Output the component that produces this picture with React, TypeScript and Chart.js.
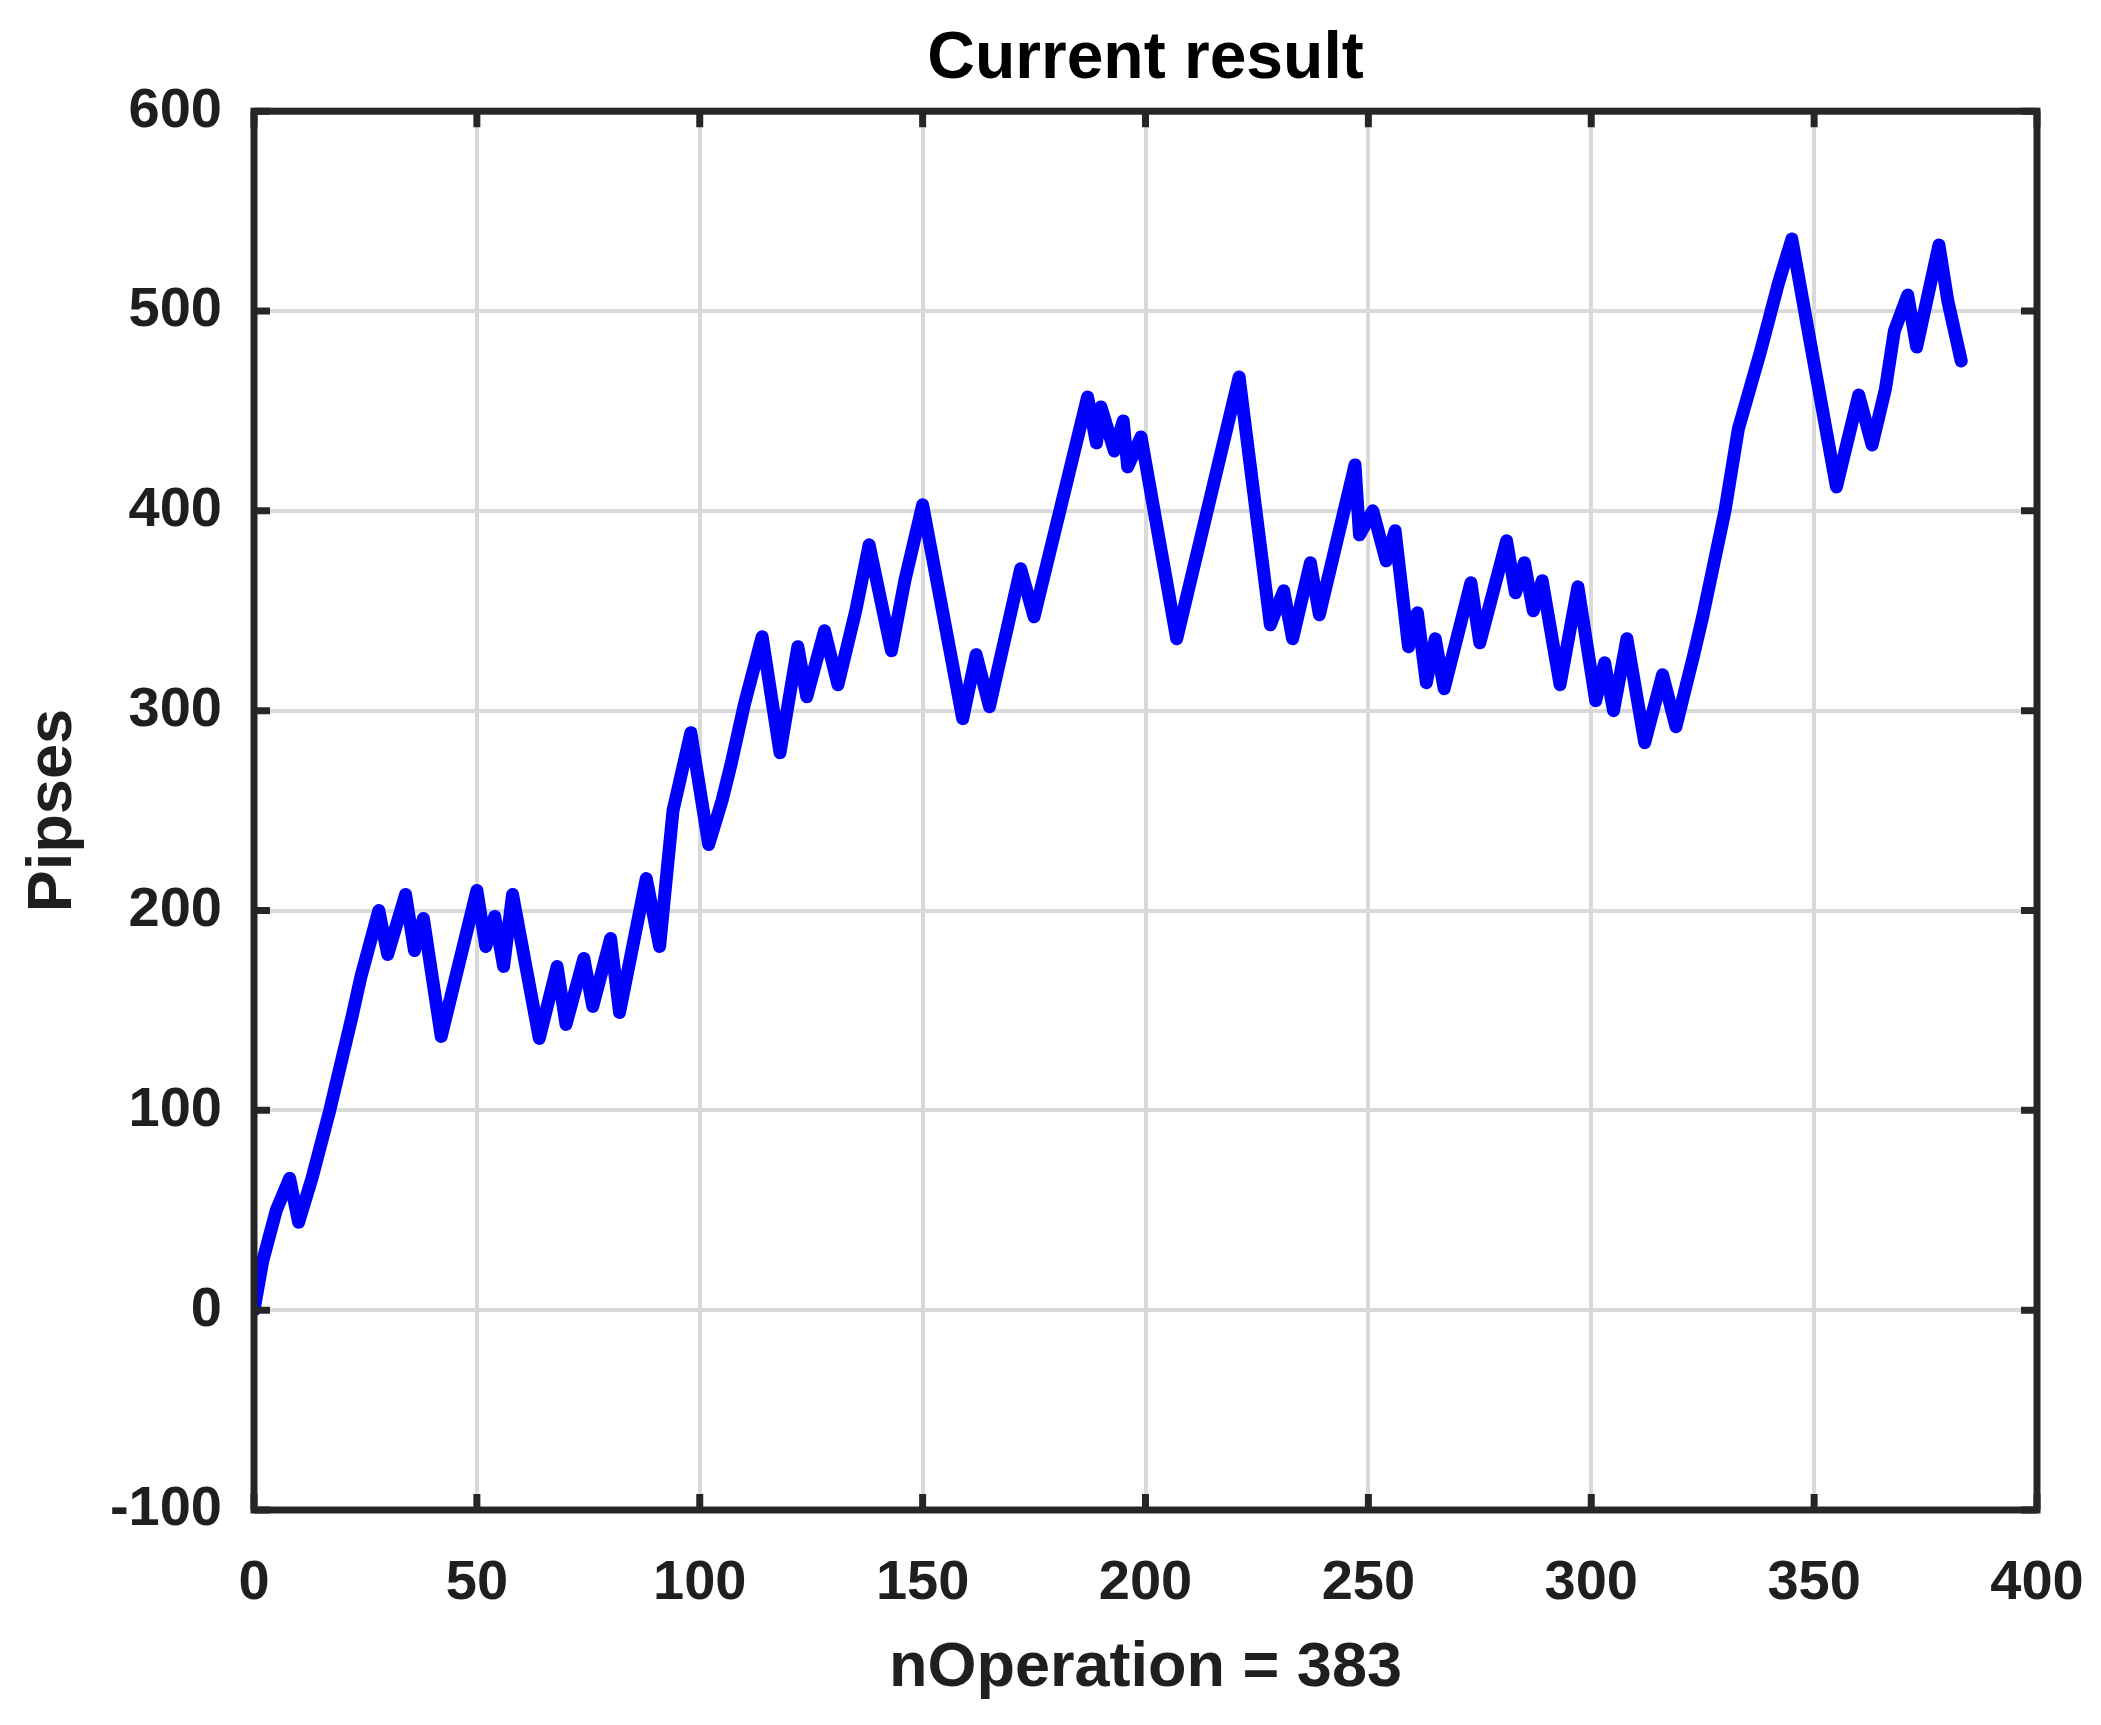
import React, { useEffect, useRef } from "react";
import { Chart, registerables } from "chart.js";

Chart.register(...registerables);

// ---- data ----
const operations = [
  0, 2, 5, 8, 10, 13, 17, 22, 24, 28,
  30, 34, 36, 38, 42, 50, 52, 54, 56, 58,
  64, 68, 70, 74, 76, 80, 82, 88, 91, 94,
  98, 102, 105, 107, 110, 114, 118, 122, 124, 128,
  131, 135, 138, 143, 146, 150, 159, 162, 165, 172,
  175, 187, 189, 190, 193, 195, 196, 199, 207, 221,
  228, 231, 233, 237, 239, 247, 248, 251, 254, 256,
  259, 261, 263, 265, 267, 273, 275, 281, 283, 285,
  287, 289, 293, 297, 301, 303, 305, 308, 312, 316,
  319, 323, 325, 330, 333, 338, 342, 345, 349, 355,
  360, 363, 366, 368, 371, 373, 378, 380, 383,
];
const pipses = [
  0, 25, 50, 66, 44, 66, 100, 147, 167, 200,
  178, 208, 180, 196, 137, 210, 182, 197, 172, 208,
  136, 172, 143, 176, 152, 186, 149, 216, 182, 250,
  289, 233, 255, 273, 303, 337, 279, 332, 307, 340,
  313, 350, 383, 330, 365, 403, 296, 328, 302, 371,
  347, 457, 434, 452, 430, 445, 422, 437, 336, 467,
  343, 360, 336, 374, 348, 423, 388, 400, 375, 390,
  332, 349, 314, 336, 311, 364, 334, 385, 359, 374,
  350, 365, 313, 362, 305, 324, 300, 336, 284, 318,
  292, 328, 347, 400, 441, 480, 514, 536, 486, 412,
  458, 433, 461, 490, 508, 482, 533, 505, 475,
];
const xTicks = [0, 50, 100, 150, 200, 250, 300, 350, 400];
const yTicks = [-100, 0, 100, 200, 300, 400, 500, 600];
const chartTitle = "Current result";
const xLabel = "nOperation = 383";
const yLabel = "Pipses";

// ---- layout / style ----
const W = 2101;
const H = 1725;
const FONT = '"Liberation Sans", Arial, Helvetica, sans-serif';
const AXIS_COLOR = "#262626";

const framePlugin = {
  id: "matlabFrame",
  afterDatasetsDraw(chart: any) {
    const { ctx, chartArea: a, scales } = chart;
    const tl = 16;
    ctx.save();
    ctx.strokeStyle = AXIS_COLOR;
    ctx.lineWidth = 7;
    ctx.lineCap = "butt";
    ctx.beginPath();
    for (const v of xTicks) {
      const px = scales.x.getPixelForValue(v);
      ctx.moveTo(px, a.bottom);
      ctx.lineTo(px, a.bottom - tl);
      ctx.moveTo(px, a.top);
      ctx.lineTo(px, a.top + tl);
    }
    for (const v of yTicks) {
      const py = scales.y.getPixelForValue(v);
      ctx.moveTo(a.left, py);
      ctx.lineTo(a.left + tl, py);
      ctx.moveTo(a.right, py);
      ctx.lineTo(a.right - tl, py);
    }
    ctx.stroke();
    ctx.lineJoin = "miter";
    ctx.strokeRect(a.left, a.top, a.right - a.left, a.bottom - a.top);
    ctx.restore();
  },
};

export default function App() {
  const ref = useRef<HTMLCanvasElement | null>(null);

  useEffect(() => {
    document.body.style.margin = "0";
    const canvas = ref.current;
    if (!canvas) return;
    const chart = new Chart(canvas, {
      type: "line",
      data: {
        datasets: [
          {
            label: yLabel,
            data: operations.map((x, i) => ({ x, y: pipses[i] })),
            borderColor: "#0000ff",
            backgroundColor: "#0000ff",
            borderWidth: 13,
            pointRadius: 0,
            tension: 0,
            borderJoinStyle: "round",
            borderCapStyle: "round",
            fill: false,
          },
        ],
      },
      options: {
        animation: false,
        responsive: false,
        devicePixelRatio: 1,
        layout: { padding: { left: 0, right: 64, top: 0, bottom: 0 } },
        plugins: {
          legend: { display: false },
          tooltip: { enabled: false },
          title: {
            display: true,
            fullSize: false,
            text: chartTitle,
            color: "#000000",
            font: { family: FONT, size: 66, weight: "bold", lineHeight: 1.2 },
            padding: { top: 20, bottom: 12 },
          },
        },
        scales: {
          x: {
            type: "linear",
            min: 0,
            max: 400,
            afterBuildTicks: (s: any) => {
              s.ticks = xTicks.map((v) => ({ value: v }));
            },
            afterFit: (s: any) => {
              s.height = 215;
              s.paddingLeft = 0;
              s.paddingRight = 0;
            },
            grid: { color: "#d9d9d9", lineWidth: 4, drawTicks: false },
            border: { display: false },
            ticks: {
              color: "#1f1f1f",
              padding: 40,
              maxRotation: 0,
              autoSkip: false,
              font: { family: FONT, size: 56, weight: "bold", lineHeight: 1.2 },
            },
            title: {
              display: true,
              text: xLabel,
              color: "#1f1f1f",
              font: { family: FONT, size: 63, weight: "bold", lineHeight: 1.2 },
              padding: { top: 0, bottom: 19 },
            },
          },
          y: {
            type: "linear",
            min: -100,
            max: 600,
            afterBuildTicks: (s: any) => {
              s.ticks = yTicks.map((v) => ({ value: v }));
            },
            afterFit: (s: any) => {
              s.width = 254;
              s.paddingTop = 0;
              s.paddingBottom = 0;
            },
            grid: { color: "#d9d9d9", lineWidth: 4, drawTicks: false },
            border: { display: false },
            ticks: {
              color: "#1f1f1f",
              padding: 32,
              autoSkip: false,
              font: { family: FONT, size: 56, weight: "bold", lineHeight: 1.2 },
            },
            title: {
              display: true,
              text: yLabel,
              color: "#1f1f1f",
              font: { family: FONT, size: 63, weight: "bold", lineHeight: 1.2 },
              padding: { top: 16, bottom: 0 },
            },
          },
        },
      },
      plugins: [framePlugin],
    });
    return () => chart.destroy();
  }, []);

  return (
    <div style={{ width: W, height: H, background: "#ffffff" }}>
      <canvas ref={ref} width={W} height={H} style={{ display: "block", width: W, height: H }} />
    </div>
  );
}
